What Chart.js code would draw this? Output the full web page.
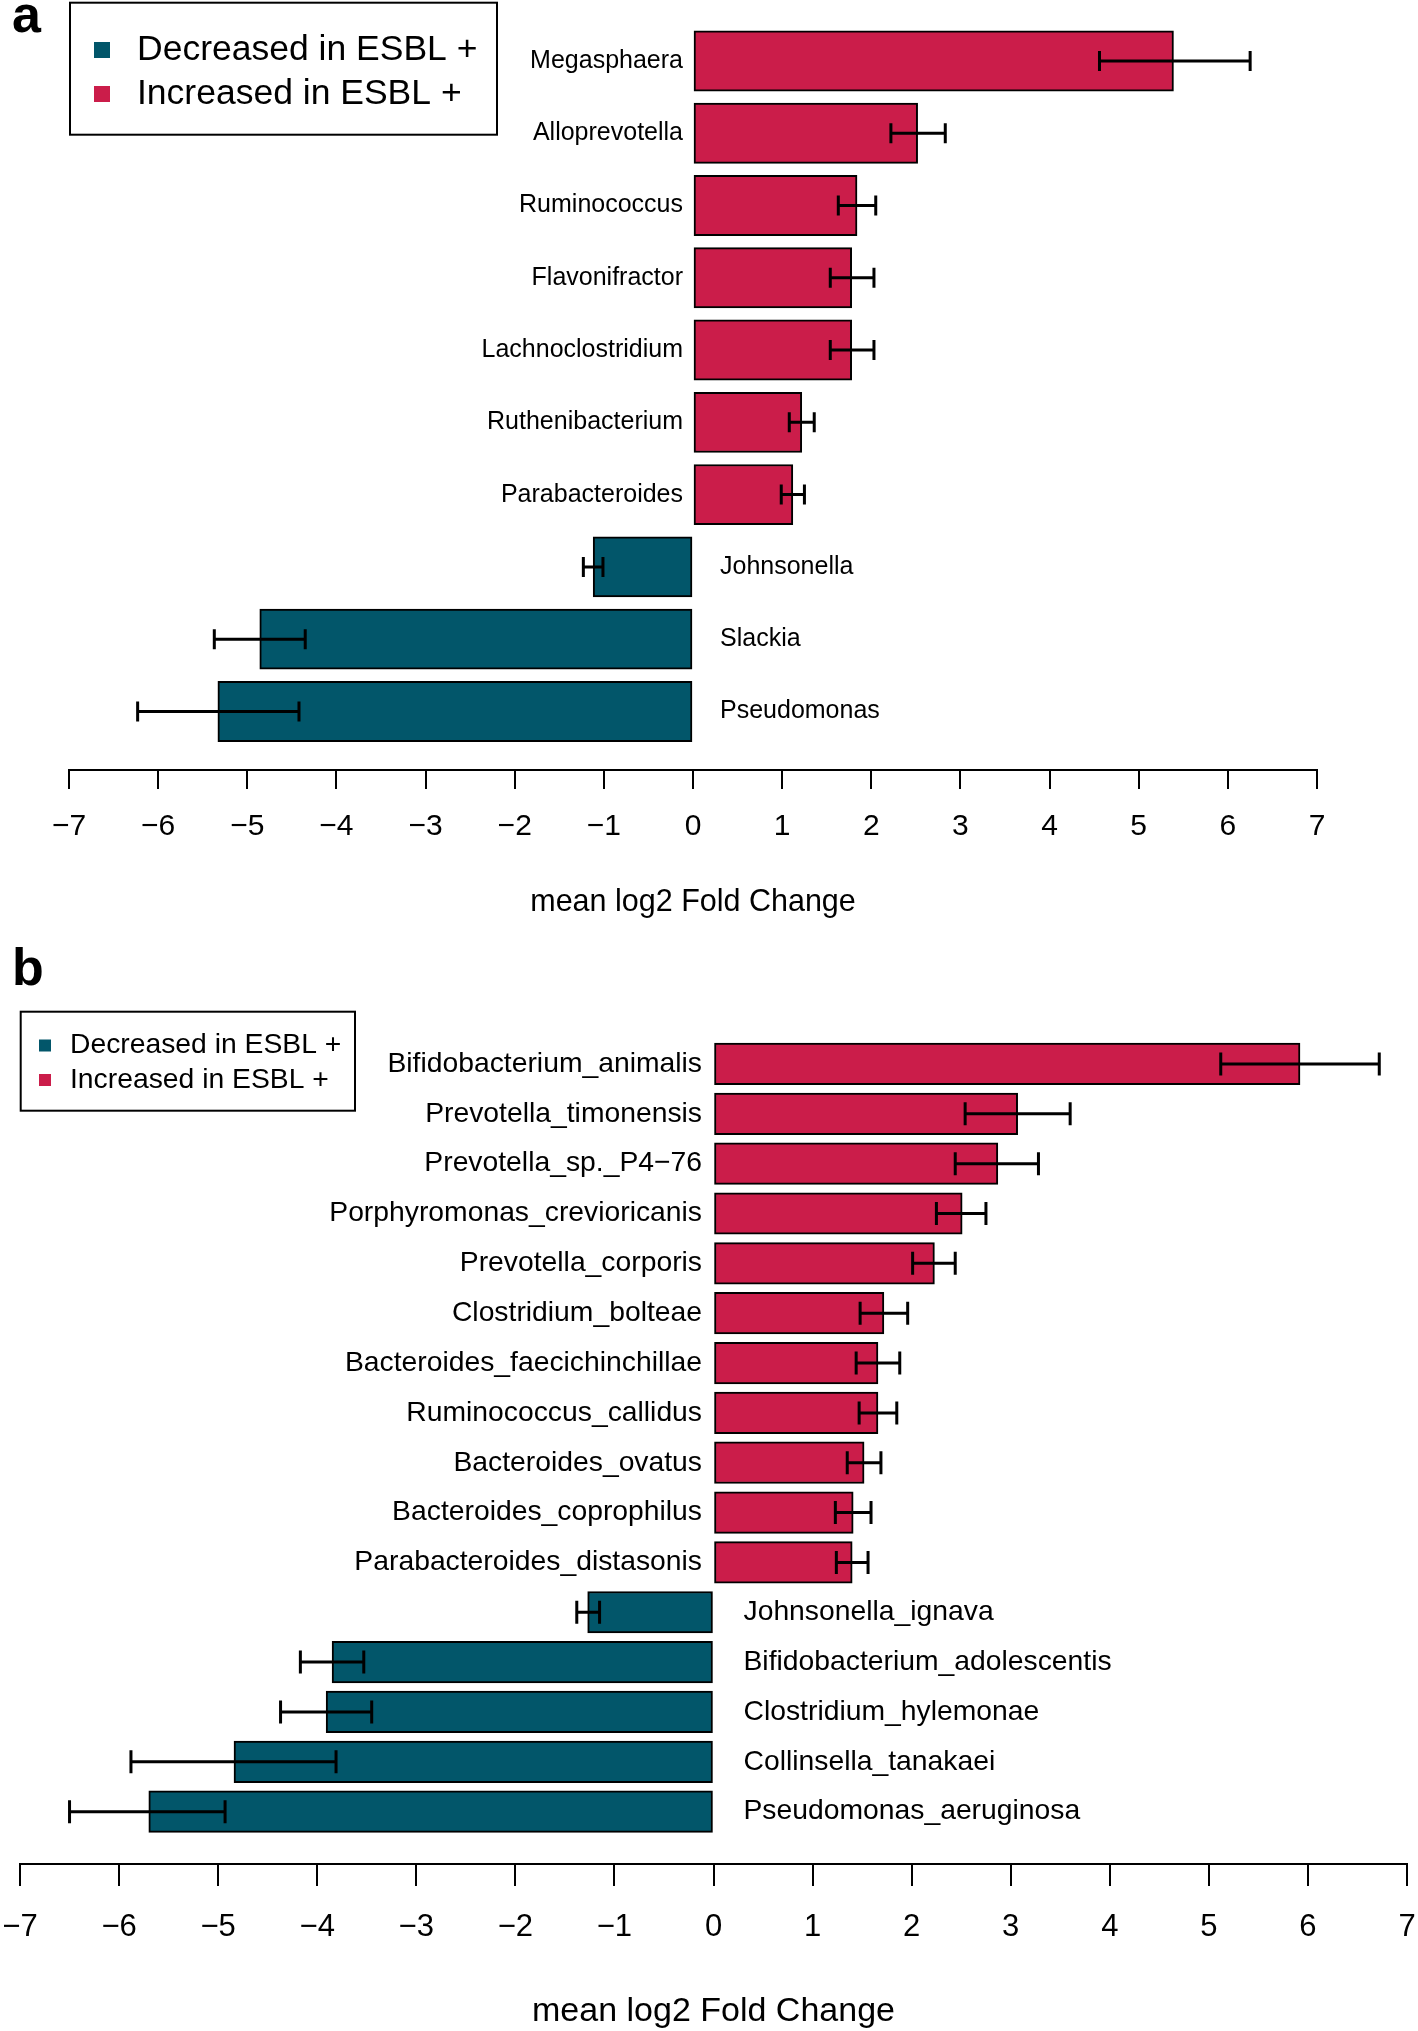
<!DOCTYPE html>
<html>
<head>
<meta charset="utf-8">
<script src="https://cdn.jsdelivr.net/npm/chart.js@4.4.1/dist/chart.umd.min.js"></script>
<style>
  html, body { margin: 0; padding: 0; background: #fff; }
  .panel { position: absolute; left: 0; width: 1418px; }
  #panelA { top: 0; height: 935px; }
  #panelB { top: 935px; height: 1096px; }
</style>
</head>
<body>
<div class="panel" id="panelA"><canvas id="chartA" width="1418" height="935"></canvas></div>
<div class="panel" id="panelB"><canvas id="chartB" width="1418" height="1096"></canvas></div>
<script>
// Panel a: genus level
const namesA = ['Megasphaera', 'Alloprevotella', 'Ruminococcus', 'Flavonifractor', 'Lachnoclostridium',
  'Ruthenibacterium', 'Parabacteroides', 'Johnsonella', 'Slackia', 'Pseudomonas'];
const meanA = [5.39, 2.52, 1.84, 1.78, 1.78, 1.22, 1.12, -1.12, -4.86, -5.33];
const lowA = [4.56, 2.22, 1.63, 1.54, 1.54, 1.08, 0.99, -1.23, -5.37, -6.23];
const highA = [6.25, 2.83, 2.05, 2.03, 2.03, 1.36, 1.25, -1.01, -4.35, -4.42];

// Panel b: species level
const namesB = ['Bifidobacterium_animalis', 'Prevotella_timonensis', 'Prevotella_sp._P4\u221276',
  'Porphyromonas_crevioricanis', 'Prevotella_corporis', 'Clostridium_bolteae', 'Bacteroides_faecichinchillae',
  'Ruminococcus_callidus', 'Bacteroides_ovatus', 'Bacteroides_coprophilus', 'Parabacteroides_distasonis',
  'Johnsonella_ignava', 'Bifidobacterium_adolescentis', 'Clostridium_hylemonae', 'Collinsella_tanakaei',
  'Pseudomonas_aeruginosa'];
const meanB = [5.92, 3.07, 2.87, 2.51, 2.23, 1.72, 1.66, 1.66, 1.52, 1.41, 1.40, -1.27, -3.85, -3.91, -4.84, -5.70];
const lowB = [5.12, 2.54, 2.44, 2.25, 2.01, 1.48, 1.44, 1.47, 1.35, 1.23, 1.24, -1.38, -4.17, -4.37, -5.88, -6.50];
const highB = [6.72, 3.60, 3.28, 2.75, 2.44, 1.96, 1.88, 1.85, 1.69, 1.59, 1.56, -1.15, -3.53, -3.45, -3.81, -4.93];

const xTicks = [-7, 7];
const legendItems = ['Decreased in ESBL +', 'Increased in ESBL +'];

const RED = '#CB1D4A';
const TEAL = '#02566A';
const legendColors = [TEAL, RED];
const FONT = '"Liberation Sans", Arial, Helvetica, sans-serif';

Chart.defaults.color = '#000';
Chart.defaults.font.family = FONT;

// error bars, bar names, legend box and panel letter
function extras(cfg) {
  return {
    id: 'extras',
    afterDatasetsDraw(chart) {
      const ctx = chart.ctx;
      const xs = chart.scales.x;
      const meta = chart.getDatasetMeta(0);
      const zero = xs.getPixelForValue(0);
      ctx.save();

      ctx.strokeStyle = '#000';
      ctx.lineWidth = 3;
      meta.data.forEach((bar, i) => {
        const x1 = xs.getPixelForValue(cfg.low[i]);
        const x2 = xs.getPixelForValue(cfg.high[i]);
        const y = bar.y, h = cfg.cap / 2;
        ctx.beginPath();
        ctx.moveTo(x1, y); ctx.lineTo(x2, y);
        ctx.moveTo(x1, y - h); ctx.lineTo(x1, y + h);
        ctx.moveTo(x2, y - h); ctx.lineTo(x2, y + h);
        ctx.stroke();
      });

      ctx.fillStyle = '#000';
      ctx.font = cfg.labelSize + 'px ' + FONT;
      ctx.textBaseline = 'middle';
      meta.data.forEach((bar, i) => {
        if (cfg.mean[i] >= 0) {
          ctx.textAlign = 'right';
          ctx.fillText(cfg.names[i], zero - cfg.gapLeft, bar.y);
        } else {
          ctx.textAlign = 'left';
          ctx.fillText(cfg.names[i], zero + cfg.gapRight, bar.y);
        }
      });

      const lg = cfg.legend;
      ctx.lineWidth = 2;
      ctx.strokeRect(lg.x, lg.y, lg.w, lg.h);
      ctx.font = lg.size + 'px ' + FONT;
      ctx.textAlign = 'left';
      legendItems.forEach((txt, k) => {
        const cy = lg.rows[k];
        ctx.fillStyle = legendColors[k];
        ctx.fillRect(lg.boxX, cy - lg.box / 2, lg.box, lg.box);
        ctx.fillStyle = '#000';
        ctx.fillText(txt, lg.textX, cy);
      });

      ctx.font = 'bold 52px ' + FONT;
      ctx.textBaseline = 'alphabetic';
      ctx.fillText(cfg.letter, 12, cfg.letterY);
      ctx.restore();
    }
  };
}

function makePanel(id, names, mean, low, high, cfg) {
  const n = names.length;
  // R barplot spacing: space 0.2 and 4% axis extension
  const pad = (0.5 + 0.04 * (1.2 * n - 0.2)) / 1.2;
  const canvas = document.getElementById(id);
  const plotHeight = canvas.height - cfg.axisHeight - cfg.padding.top;
  const barSize = plotHeight / (n - 1 + 2 * pad) / 1.2;
  cfg.names = names; cfg.mean = mean; cfg.low = low; cfg.high = high;

  new Chart(canvas, {
    type: 'bar',
    data: {
      datasets: [{
        data: mean.map((v, i) => ({ x: v, y: i })),
        backgroundColor: mean.map(v => v >= 0 ? RED : TEAL),
        borderColor: '#000',
        borderWidth: 2,
        borderSkipped: false,
        barThickness: barSize
      }]
    },
    options: {
      indexAxis: 'y',
      responsive: false,
      animation: false,
      layout: { padding: cfg.padding },
      plugins: { legend: { display: false }, tooltip: { enabled: false } },
      scales: {
        x: {
          type: 'linear',
          position: 'bottom',
          min: xTicks[0],
          max: xTicks[1],
          ticks: {
            stepSize: 1,
            autoSkip: false,
            maxRotation: 0,
            padding: cfg.tickPad,
            font: { size: cfg.tickSize },
            callback: v => v < 0 ? '\u2212' + Math.abs(v) : String(v)
          },
          grid: { drawOnChartArea: false, drawTicks: true, tickLength: cfg.tickLen, color: '#000', lineWidth: 2 },
          border: { display: true, color: '#000', width: 2 },
          title: {
            display: true,
            text: 'mean log2 Fold Change',
            font: { size: cfg.titleSize, lineHeight: 1.15 },
            padding: { top: 0, bottom: cfg.titlePad }
          },
          afterFit: s => { s.height = cfg.axisHeight; s.paddingLeft = 0; s.paddingRight = 0; }
        },
        y: {
          type: 'linear',
          reverse: true,
          display: false,
          offset: false,
          bounds: 'data',
          min: -pad,
          max: n - 1 + pad
        }
      }
    },
    plugins: [extras(cfg)]
  });
}

makePanel('chartA', namesA, meanA, lowA, highA, {
  padding: { left: 69, right: 101, top: 2.4, bottom: 0 },
  axisHeight: 165, tickLen: 19, tickPad: 20, tickSize: 30, titleSize: 30.5, titlePad: 15,
  labelSize: 25, gapLeft: 10, gapRight: 27, cap: 20,
  legend: { x: 70, y: 2.7, w: 427, h: 132, box: 16, boxX: 94, textX: 137, rows: [50, 94], size: 35.5 },
  letter: 'a', letterY: 32
});

makePanel('chartB', namesB, meanB, lowB, highB, {
  padding: { left: 20, right: 11, top: 76.6, bottom: 0 },
  axisHeight: 167, tickLen: 22, tickPad: 23, tickSize: 31, titleSize: 34, titlePad: 0,
  labelSize: 28.3, gapLeft: 11.5, gapRight: 30, cap: 23,
  legend: { x: 20.7, y: 76.7, w: 334.3, h: 99, box: 12, boxX: 39, textX: 70, rows: [110.5, 145], size: 28.3 },
  letter: 'b', letterY: 50
});
</script>
</body>
</html>
